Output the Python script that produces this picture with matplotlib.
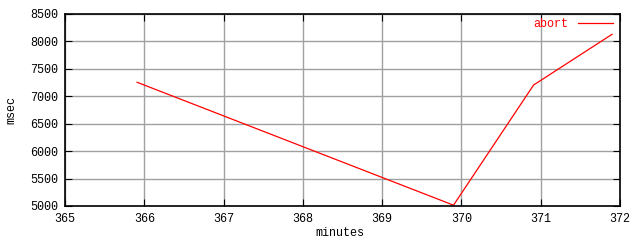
import matplotlib
matplotlib.use("Agg")
import matplotlib.pyplot as plt

minutes = [365.91, 369.9, 370.91, 371.9]
msec = [7255, 5015, 7205, 8130]
xticks = [365, 366, 367, 368, 369, 370, 371, 372]
yticks = [5000, 5500, 6000, 6500, 7000, 7500, 8000, 8500]

plt.rcParams['font.family'] = ['Liberation Mono', 'DejaVu Sans Mono']
fig = plt.figure(figsize=(6.4, 2.4), dpi=100)
ax = fig.add_axes([65/640, 1-206/240, (620-65)/640, (206-14)/240])
ax.plot(minutes, msec, color='#ff0000', lw=0.9, label='abort')
ax.set_xlim(365, 372)
ax.set_ylim(5000, 8500)
ax.set_xticks(xticks)
ax.set_yticks(yticks)
ax.set_xticklabels([str(t) for t in xticks])
ax.set_yticklabels([str(t) for t in yticks])
ax.grid(True, color='#a0a0a0', lw=1)
ax.tick_params(direction='in', length=5, top=True, right=True, labelsize=8.5, colors='black', pad=5)
for s in ax.spines.values():
    s.set_linewidth(1.2)
ax.set_xlabel('minutes', fontsize=8.5)
ax.set_ylabel('msec', fontsize=8.5)
ax.xaxis.set_label_coords((340-65)/555, -(227-206)/192)
ax.yaxis.set_label_coords(-(65-17)/555, 0.5)
leg = ax.legend(loc='upper right', frameon=False, fontsize=8.5, markerfirst=False,
                handlelength=3, borderaxespad=0.2, handletextpad=0.8,
                bbox_to_anchor=(1.0, 1.015))
for t in leg.get_texts():
    t.set_color('#ff0000')
fig.savefig('out.png', dpi=100)
